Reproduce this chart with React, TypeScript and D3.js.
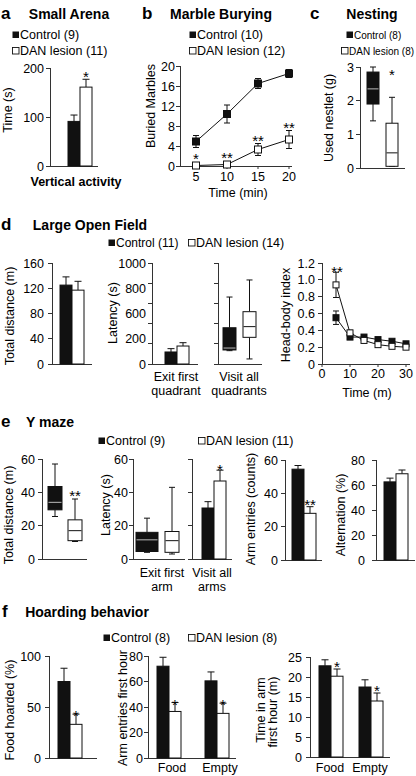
import React from "react";
import * as d3 from "d3";

const FONT = "'Liberation Sans', Arial, Helvetica, sans-serif";
const AXC = "#333";
const BLACK = "#111";
const FS = 12.5;

// ---------- data ----------
// a Small Arena
const aLegend = ["Control (9)", "DAN lesion (11)"];
const aMean = [91, 161];
const aErr = [13, 16];
const aYTicks = [0, 100, 200];

// b Marble Burying
const bLegend = ["Control (10)", "DAN lesion (12)"];
const bTime = [5, 10, 15, 20];
const bCtrl = [4.9, 10.4, 16.5, 18.5];
const bCtrlErr = [1.2, 1.8, 1.0, 0.8];
const bDan = [0.1, 0.3, 3.3, 5.3];
const bDanErr = [0.1, 0.2, 1.2, 1.8];
const bStars = ["*", "**", "**", "**"];
const bYTicks = [0, 4, 8, 12, 16, 20];

// c Nesting  [min, q1, median, q3, max]
const cLegend = ["Control (8)", "DAN lesion (8)"];
const cCtrlBox = [1.4, 1.9, 2.35, 2.85, 3.0];
const cDanBox = [0.05, 0.05, 0.45, 1.33, 2.1];
const cYTicks = [0, 1, 2, 3];

// d Large Open Field
const dLegend = ["Control (11)", "DAN lesion (14)"];
const dDistMean = [125, 117];
const dDistErr = [13, 14];
const dDistTicks = [0, 40, 80, 120, 160];
const dExitMean = [119, 178];
const dExitErr = [33, 33];
const dLatTicks = [0, 200, 400, 600, 800, 1000];
const dLatLabels = ["0", "200", "600", "800", "1000"];
const dVisitCtrlBox = [132, 139, 158, 359, 663];
const dVisitDanBox = [50, 264, 370, 518, 832];
const dLatCats = [["Exit first", "quadrant"], ["Visit all", "quadrants"]];
const dHbTime = [5, 10, 15, 20, 25, 30];
const dHbCtrl = [0.55, 0.32, 0.32, 0.29, 0.27, 0.24];
const dHbCtrlErr = [0.08, 0.03, 0.02, 0.02, 0.02, 0.02];
const dHbDan = [0.94, 0.37, 0.28, 0.23, 0.21, 0.2];
const dHbDanErr = [0.15, 0.03, 0.02, 0.02, 0.02, 0.02];
const dHbYTicks = [0, 0.2, 0.4, 0.6, 0.8, 1.0, 1.2];
const dHbXTicks = [0, 10, 20, 30];

// e Y maze
const eLegend = ["Control (9)", "DAN lesion (11)"];
const eDistCtrlBox = [25.5, 29.5, 34, 43.5, 57];
const eDistDanBox = [10.5, 11, 17, 23.5, 36];
const eYTicks = [0, 20, 40, 60];
const eExitCtrlBox = [4, 4.5, 11.5, 16, 24.5];
const eExitDanBox = [3, 4, 11, 16.5, 43];
const eVisitMean = [30.6, 46.8];
const eVisitErr = [3.8, 6.5];
const eLatCats = [["Exit first", "arm"], ["Visit all", "arms"]];
const eArmMean = [54.5, 28];
const eArmErr = [2.2, 4];
const eAltMean = [62.5, 69];
const eAltErr = [3, 3];
const eAltTicks = [0, 20, 40, 60, 80];

// f Hoarding behavior
const fLegend = ["Control (8)", "DAN lesion (8)"];
const fFoodMean = [75, 33];
const fFoodErr = [13, 10];
const fFoodTicks = [0, 50, 100];
const fCats = ["Food", "Empty"];
const fEntCtrl = [72, 60.5];
const fEntCtrlErr = [7, 7];
const fEntDan = [36.5, 35];
const fEntDanErr = [7, 8];
const fEntTicks = [0, 20, 40, 60, 80];
const fTimeCtrl = [22.8, 17.5];
const fTimeCtrlErr = [1.5, 1.8];
const fTimeDan = [20.2, 14];
const fTimeDanErr = [1.8, 2];
const fTimeTicks = [0, 5, 10, 15, 20, 25];

// ---------- helpers ----------
type Lin = d3.ScaleLinear<number, number>;

function YAxis({ y, x, ticks, gap = 7, len = 4, labels = true, fmt = (d: number) => String(d) }:
  { y: Lin; x: number; ticks: number[]; gap?: number; len?: number; labels?: boolean; fmt?: (d: number) => string }) {
  const [r0, r1] = y.range();
  return (
    <g>
      <line x1={x} x2={x} y1={r0} y2={r1} stroke={AXC} shapeRendering="crispEdges" />
      {ticks.map((t) => (
        <g key={t}>
          <line x1={x - len} x2={x} y1={y(t)} y2={y(t)} stroke={AXC} shapeRendering="crispEdges" />
          {labels && (
            <text x={x - gap} y={y(t)} dy="0.36em" textAnchor="end" fontSize={FS}>
              {fmt(t)}
            </text>
          )}
        </g>
      ))}
    </g>
  );
}

function XLine({ x0, x1, y }: { x0: number; x1: number; y: number }) {
  return <line x1={x0} x2={x1} y1={y} y2={y} stroke={AXC} shapeRendering="crispEdges" />;
}

function Bar({ x, w, y, v, e, dark, star, starDy = 4 }:
  { x: number; w: number; y: Lin; v: number; e: number; dark: boolean; star?: string; starDy?: number }) {
  const cx = x + w / 2;
  const top = y(v + e);
  return (
    <g>
      <line x1={cx} x2={cx} y1={y(v)} y2={top} stroke={BLACK} />
      <line x1={cx - 3.5} x2={cx + 3.5} y1={top} y2={top} stroke={BLACK} />
      <rect x={x} y={y(v)} width={w} height={y(0) - y(v)} fill={dark ? BLACK : "#fff"} stroke={BLACK} />
      {star && (
        <text x={cx} y={top + starDy} textAnchor="middle" fontSize={15}>
          {star}
        </text>
      )}
    </g>
  );
}

function Box({ x0, x1, y, vals, dark }: { x0: number; x1: number; y: Lin; vals: number[]; dark: boolean }) {
  const [mn, q1, md, q3, mx] = vals.map((v) => y(v));
  const cx = (x0 + x1) / 2;
  return (
    <g>
      <line x1={cx} x2={cx} y1={mx} y2={q3} stroke={BLACK} />
      <line x1={cx} x2={cx} y1={q1} y2={mn} stroke={BLACK} />
      <line x1={cx - 3} x2={cx + 3} y1={mx} y2={mx} stroke={BLACK} />
      <line x1={cx - 3} x2={cx + 3} y1={mn} y2={mn} stroke={BLACK} />
      <rect x={x0} y={q3} width={x1 - x0} height={Math.max(q1 - q3, 0.5)} fill={dark ? BLACK : "#fff"} stroke={BLACK} />
      <line x1={x0 + 0.5} x2={x1 - 0.5} y1={md} y2={md} stroke={dark ? "#bbb" : BLACK} />
    </g>
  );
}

function VLabel({ x, y, text, size = FS }: { x: number; y: number; text: string; size?: number }) {
  return (
    <text transform={`translate(${x},${y}) rotate(-90)`} textAnchor="middle" fontSize={size}>
      {text}
    </text>
  );
}

function LegendItem({ x, y, label, dark, size = 12.5 }: { x: number; y: number; label: string; dark: boolean; size?: number }) {
  return (
    <g>
      <rect x={x + 0.5} y={y - 7.5} width={6.5} height={6.5} fill={dark ? BLACK : "#fff"} stroke={BLACK} strokeWidth={dark ? 0 : 0.9} />
      <text x={x + 8} y={y} fontSize={size}>
        {label}
      </text>
    </g>
  );
}

function Title({ x, y, text, letter, lx }: { x: number; y: number; text: string; letter: string; lx: number }) {
  return (
    <g>
      <text x={lx} y={y} fontSize={17} fontWeight="bold">
        {letter}
      </text>
      <text x={x} y={y} fontSize={14} fontWeight="bold" textAnchor="middle">
        {text}
      </text>
    </g>
  );
}

function Marker({ cx, cy, dark, s }: { cx: number; cy: number; dark: boolean; s: number }) {
  return <rect x={cx - s / 2} y={cy - s / 2} width={s} height={s} fill={dark ? BLACK : "#fff"} stroke={BLACK} />;
}

function ErrV({ cx, y, v, e }: { cx: number; y: Lin; v: number; e: number }) {
  const t = y(v + e), b = y(Math.max(v - e, 0));
  return (
    <g>
      <line x1={cx} x2={cx} y1={t} y2={b} stroke={BLACK} />
      <line x1={cx - 3} x2={cx + 3} y1={t} y2={t} stroke={BLACK} />
      <line x1={cx - 3} x2={cx + 3} y1={b} y2={b} stroke={BLACK} />
    </g>
  );
}

function Series({ x, y, xs, vs, es, dark, s }: { x: Lin; y: Lin; xs: number[]; vs: number[]; es: number[]; dark: boolean; s: number }) {
  const line = d3.line<number>().x((_, i) => x(xs[i])).y((d) => y(d));
  return (
    <g>
      <path d={line(vs) || ""} fill="none" stroke={BLACK} />
      {vs.map((v, i) => (
        <ErrV key={"e" + i} cx={x(xs[i])} y={y} v={v} e={es[i]} />
      ))}
      {vs.map((v, i) => (
        <Marker key={"m" + i} cx={x(xs[i])} cy={y(v)} dark={dark} s={s} />
      ))}
    </g>
  );
}

// ---------- panels ----------
function PanelA() {
  const y = d3.scaleLinear([0, 200], [166, 68]);
  const x = d3.scaleBand(["c", "d"], [68, 92]);
  return (
    <g>
      <Title letter="a" lx={1} x={69} y={19} text="Small Arena" />
      <LegendItem x={12} y={39} label={aLegend[0]} dark />
      <LegendItem x={12} y={55} label={aLegend[1]} dark={false} />
      <YAxis y={y} x={50} ticks={aYTicks} gap={6} />
      <XLine x0={50} x1={98} y={166} />
      <Bar x={x("c")!} w={x.bandwidth()} y={y} v={aMean[0]} e={aErr[0]} dark />
      <Bar x={x("d")!} w={x.bandwidth()} y={y} v={aMean[1]} e={aErr[1]} dark={false} star="*" starDy={3} />
      <text x={76} y={186} fontSize={12.5} fontWeight="bold" textAnchor="middle">Vertical activity</text>
      <VLabel x={12} y={110} text="Time (s)" />
    </g>
  );
}

function PanelB() {
  const y = d3.scaleLinear([0, 20], [166, 66]);
  const x = d3.scaleLinear([5, 20], [196, 289]);
  return (
    <g>
      <Title letter="b" lx={142} x={221} y={19} text="Marble Burying" />
      <LegendItem x={189} y={39} label={bLegend[0]} dark />
      <LegendItem x={189} y={55} label={bLegend[1]} dark={false} />
      <YAxis y={y} x={180} ticks={bYTicks} gap={5} />
      <XLine x0={180} x1={292} y={166} />
      {bTime.map((t) => (
        <g key={t}>
          <line x1={x(t)} x2={x(t)} y1={166} y2={169} stroke={AXC} />
          <text x={x(t)} y={181} textAnchor="middle" fontSize={FS}>{t}</text>
        </g>
      ))}
      <Series x={x} y={y} xs={bTime} vs={bCtrl} es={bCtrlErr} dark s={7} />
      <Series x={x} y={y} xs={bTime} vs={bDan} es={bDanErr} dark={false} s={7} />
      {bStars.map((s, i) => (
        <text key={i} x={x(bTime[i])} y={Math.min(y(bDan[i] + bDanErr[i]), y(bDan[i]) - 4) + 2} textAnchor="middle" fontSize={15}>
          {s}
        </text>
      ))}
      <text x={238} y={197} textAnchor="middle" fontSize={FS}>Time (min)</text>
      <VLabel x={155} y={106} text="Buried Marbles" />
    </g>
  );
}

function PanelC() {
  const y = d3.scaleLinear([0, 3], [168, 67]);
  return (
    <g>
      <Title letter="c" lx={310} x={372} y={19} text="Nesting" />
      <LegendItem x={346} y={39} label={cLegend[0]} dark size={10} />
      <LegendItem x={341} y={55} label={cLegend[1]} dark={false} size={10} />
      <YAxis y={y} x={360} ticks={cYTicks} gap={6} />
      <XLine x0={360} x1={405} y={168} />
      <Box x0={367} x1={379} y={y} vals={cCtrlBox} dark />
      <Box x0={386} x1={398} y={y} vals={cDanBox} dark={false} />
      <text x={392} y={y(cDanBox[4]) - 17} textAnchor="middle" fontSize={15}>*</text>
      <VLabel x={333} y={118} text="Used nestlet (g)" />
    </g>
  );
}

function PanelD() {
  const y1 = d3.scaleLinear([0, 160], [364, 263]);
  const y2 = d3.scaleLinear([0, 1000], [364, 263]);
  const yLab = d3.scalePoint(dLatLabels, [364, 263]);
  const y3 = d3.scaleLinear([0, 1.2], [364, 263]);
  const x3 = d3.scaleLinear([0, 30], [322, 406]);
  return (
    <g>
      <Title letter="d" lx={1} x={90} y={230} text="Large Open Field" />
      <LegendItem x={108} y={247} label={dLegend[0]} dark size={12} />
      <LegendItem x={188} y={247} label={dLegend[1]} dark={false} size={12.5} />
      {/* total distance */}
      <YAxis y={y1} x={52} ticks={dDistTicks} gap={8} />
      <XLine x0={52} x1={92} y={364} />
      <Bar x={60} w={12} y={y1} v={dDistMean[0]} e={dDistErr[0]} dark />
      <Bar x={72} w={12} y={y1} v={dDistMean[1]} e={dDistErr[1]} dark={false} />
      <VLabel x={14} y={316} text="Total distance (m)" />
      {/* latency */}
      <YAxis y={y2} x={152} ticks={dLatTicks} labels={false} />
      {dLatLabels.map((l) => (
        <text key={l} x={146} y={yLab(l)!} dy="0.36em" textAnchor="end" fontSize={FS}>{l}</text>
      ))}
      <XLine x0={152} x1={198} y={364} />
      <Bar x={165} w={12} y={y2} v={dExitMean[0]} e={dExitErr[0]} dark />
      <Bar x={177} w={12} y={y2} v={dExitMean[1]} e={dExitErr[1]} dark={false} />
      <YAxis y={y2} x={218} ticks={dLatTicks} labels={false} />
      <XLine x0={218} x1={262} y={364} />
      <Box x0={223} x1={236} y={y2} vals={dVisitCtrlBox} dark />
      <Box x0={243} x1={256} y={y2} vals={dVisitDanBox} dark={false} />
      {dLatCats.map((c, i) => (
        <text key={i} x={[176, 239][i]} y={381} textAnchor="middle" fontSize={FS}>
          <tspan x={[176, 239][i]}>{c[0]}</tspan>
          <tspan x={[176, 239][i]} dy={13.5}>{c[1]}</tspan>
        </text>
      ))}
      <VLabel x={117} y={313} text="Latency (s)" />
      {/* head-body index */}
      <YAxis y={y3} x={322} ticks={dHbYTicks} gap={7} fmt={(d) => (d === 0 ? "0" : d.toFixed(1))} />
      <XLine x0={322} x1={410} y={364} />
      {dHbXTicks.map((t) => (
        <g key={t}>
          <line x1={x3(t)} x2={x3(t)} y1={364} y2={367} stroke={AXC} />
          <text x={x3(t)} y={378} textAnchor="middle" fontSize={FS}>{t}</text>
        </g>
      ))}
      <Series x={x3} y={y3} xs={dHbTime} vs={dHbCtrl} es={dHbCtrlErr} dark s={6} />
      <Series x={x3} y={y3} xs={dHbTime} vs={dHbDan} es={dHbDanErr} dark={false} s={6} />
      <text x={x3(dHbTime[0]) + 1} y={277} textAnchor="middle" fontSize={15}>**</text>
      <text x={367} y={397} textAnchor="middle" fontSize={FS}>Time (m)</text>
      <VLabel x={290} y={315} text="Head-body index" />
    </g>
  );
}

function PanelE() {
  const y = d3.scaleLinear([0, 60], [559, 459]);
  const y3 = d3.scaleLinear([0, 60], [560, 460]);
  const y4 = d3.scaleLinear([0, 80], [560, 460]);
  return (
    <g>
      <Title letter="e" lx={1} x={50} y={427} text="Y maze" />
      <LegendItem x={98} y={445} label={eLegend[0]} dark />
      <LegendItem x={198} y={445} label={eLegend[1]} dark={false} />
      {/* total distance */}
      <YAxis y={y} x={42} ticks={eYTicks} gap={7} />
      <XLine x0={42} x1={87} y={559} />
      <Box x0={48} x1={62} y={y} vals={eDistCtrlBox} dark />
      <Box x0={68} x1={82} y={y} vals={eDistDanBox} dark={false} />
      <text x={75} y={501} textAnchor="middle" fontSize={15}>**</text>
      <VLabel x={13} y={515} text="Total distance (m)" />
      {/* latency */}
      <YAxis y={y} x={133} ticks={eYTicks} gap={5} />
      <XLine x0={133} x1={185} y={559} />
      <Box x0={136} x1={158} y={y} vals={eExitCtrlBox} dark />
      <Box x0={165} x1={179} y={y} vals={eExitDanBox} dark={false} />
      <YAxis y={y} x={192} ticks={eYTicks} labels={false} />
      <XLine x0={192} x1={232} y={559} />
      <Bar x={202} w={12} y={y} v={eVisitMean[0]} e={eVisitErr[0]} dark />
      <Bar x={214} w={12} y={y} v={eVisitMean[1]} e={eVisitErr[1]} dark={false} star="*" starDy={5} />
      {eLatCats.map((c, i) => (
        <text key={i} y={577} textAnchor="middle" fontSize={FS}>
          <tspan x={[162, 212][i]}>{c[0]}</tspan>
          <tspan x={[162, 212][i]} dy={13.5}>{c[1]}</tspan>
        </text>
      ))}
      <VLabel x={110} y={505} text="Latency (s)" />
      {/* arm entries */}
      <YAxis y={y3} x={285} ticks={eYTicks} gap={7} />
      <XLine x0={285} x1={322} y={560} />
      <Bar x={292} w={12} y={y3} v={eArmMean[0]} e={eArmErr[0]} dark />
      <Bar x={304} w={12} y={y3} v={eArmMean[1]} e={eArmErr[1]} dark={false} star="**" starDy={3} />
      <VLabel x={255} y={509} text="Arm entries (counts)" />
      {/* alternation */}
      <YAxis y={y4} x={376} ticks={eAltTicks} gap={11} />
      <XLine x0={376} x1={415} y={560} />
      <Bar x={384} w={12} y={y4} v={eAltMean[0]} e={eAltErr[0]} dark />
      <Bar x={396} w={12} y={y4} v={eAltMean[1]} e={eAltErr[1]} dark={false} />
      <VLabel x={345} y={515} text="Alternation (%)" />
    </g>
  );
}

function PanelF() {
  const y1 = d3.scaleLinear([0, 100], [758, 656]);
  const y2 = d3.scaleLinear([0, 80], [758, 656]);
  const y3 = d3.scaleLinear([0, 25], [757, 657]);
  const g2 = d3.scalePoint(fCats, [169, 217]);
  const g3 = d3.scalePoint(fCats, [331, 371]);
  return (
    <g>
      <Title letter="f" lx={2} x={87} y={617} text="Hoarding behavior" />
      <LegendItem x={103} y={642} label={fLegend[0]} dark />
      <LegendItem x={188} y={642} label={fLegend[1]} dark={false} />
      {/* food hoarded */}
      <YAxis y={y1} x={49} ticks={fFoodTicks} gap={8} />
      <XLine x0={49} x1={97} y={758} />
      <Bar x={58} w={12} y={y1} v={fFoodMean[0]} e={fFoodErr[0]} dark />
      <Bar x={70} w={12} y={y1} v={fFoodMean[1]} e={fFoodErr[1]} dark={false} star="*" starDy={7} />
      <VLabel x={14} y={710} text="Food hoarded (%)" />
      {/* arm entries */}
      <YAxis y={y2} x={148} ticks={fEntTicks} gap={5} />
      <XLine x0={148} x1={236} y={758} />
      {fCats.map((c, i) => (
        <g key={c}>
          <Bar x={g2(c)! - 12} w={12} y={y2} v={fEntCtrl[i]} e={fEntCtrlErr[i]} dark />
          <Bar x={g2(c)!} w={12} y={y2} v={fEntDan[i]} e={fEntDanErr[i]} dark={false} star="*" starDy={7} />
          <text x={g2(c)! + 3} y={772} textAnchor="middle" fontSize={FS}>{c}</text>
        </g>
      ))}
      <VLabel x={127} y={708} text="Arm entries first hour" />
      {/* time in arm */}
      <YAxis y={y3} x={310} ticks={fTimeTicks} gap={8} />
      <XLine x0={310} x1={390} y={757} />
      {fCats.map((c, i) => (
        <g key={c}>
          <Bar x={g3(c)! - 12} w={12} y={y3} v={fTimeCtrl[i]} e={fTimeCtrlErr[i]} dark />
          <Bar x={g3(c)!} w={12} y={y3} v={fTimeDan[i]} e={fTimeDanErr[i]} dark={false} star="*" starDy={3} />
          <text x={g3(c)! - 1} y={772} textAnchor="middle" fontSize={FS}>{c}</text>
        </g>
      ))}
      <VLabel x={265} y={710} text="Time in arm" />
      <VLabel x={277} y={712} text="first hour (m)" />
    </g>
  );
}

export default function App() {
  return (
    <div style={{ position: "absolute", left: 0, top: 0 }}>
      <svg width={416} height={776} viewBox="0 0 416 776" style={{ display: "block", background: "#fff" }} fontFamily={FONT} fill="#000">
        <rect width={416} height={776} fill="#fff" />
        <PanelA />
        <PanelB />
        <PanelC />
        <PanelD />
        <PanelE />
        <PanelF />
      </svg>
    </div>
  );
}
